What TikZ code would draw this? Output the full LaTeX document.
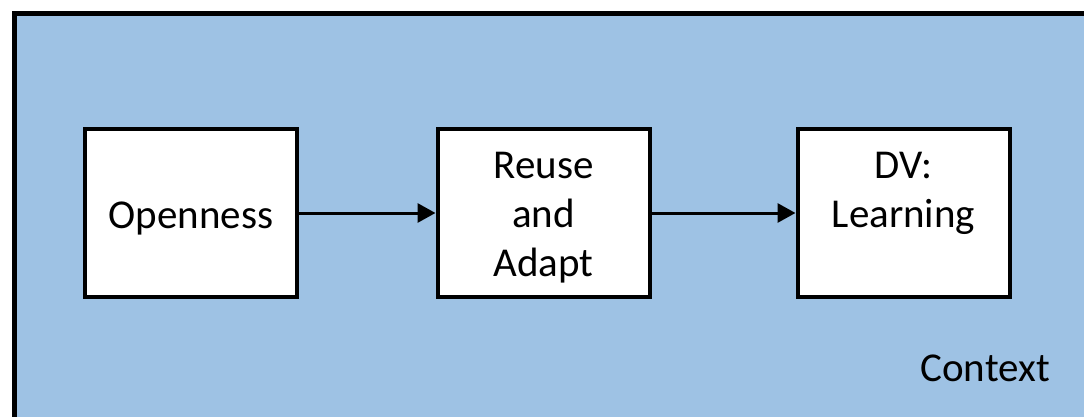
\documentclass[tikz,border=0pt]{standalone}
\usepackage{fontspec}
\setmainfont{Carlito}
\usetikzlibrary{arrows.meta}
\definecolor{ctxblue}{RGB}{158,194,228}
\begin{document}
\begin{tikzpicture}[x=1pt,y=-1pt,
  box/.style={draw=black,fill=white,line width=4pt,minimum width=212pt,minimum height=168pt,inner sep=0pt},
  lbl/.style={align=center,font=\fontsize{41}{49}\selectfont,inner sep=0pt},
  conn/.style={line width=3pt,-{Triangle[length=18pt,width=19pt]}}]
\useasboundingbox (0,0) rectangle (1084,417);
\begin{scope}
\clip (0,0) rectangle (1084,417);
\fill[white] (0,0) rectangle (1084,417);
\draw[line width=5pt,fill=ctxblue] (14,14) rectangle (1100,419);
\end{scope}
\node[box] (open) at (191,213) {};
\node[box] (reuse) at (543.5,213) {};
\node[box] (dv) at (903.5,213) {};
\node[lbl] (opentext) at ([yshift=-5pt]open.center) {Openness};
\node[lbl] (reusetext) at ([yshift=-5pt]reuse.center) {Reuse\\and\\Adapt};
\node[lbl] (dvtext) at ([yshift=20pt]dv.center) {DV:\\Learning};
\node[lbl,anchor=base east] (ctx) at (1050,381) {Context};
\draw[conn] (open.east) -- (reuse.west);
\draw[conn] (reuse.east) -- (dv.west);
\end{tikzpicture}
\end{document}
